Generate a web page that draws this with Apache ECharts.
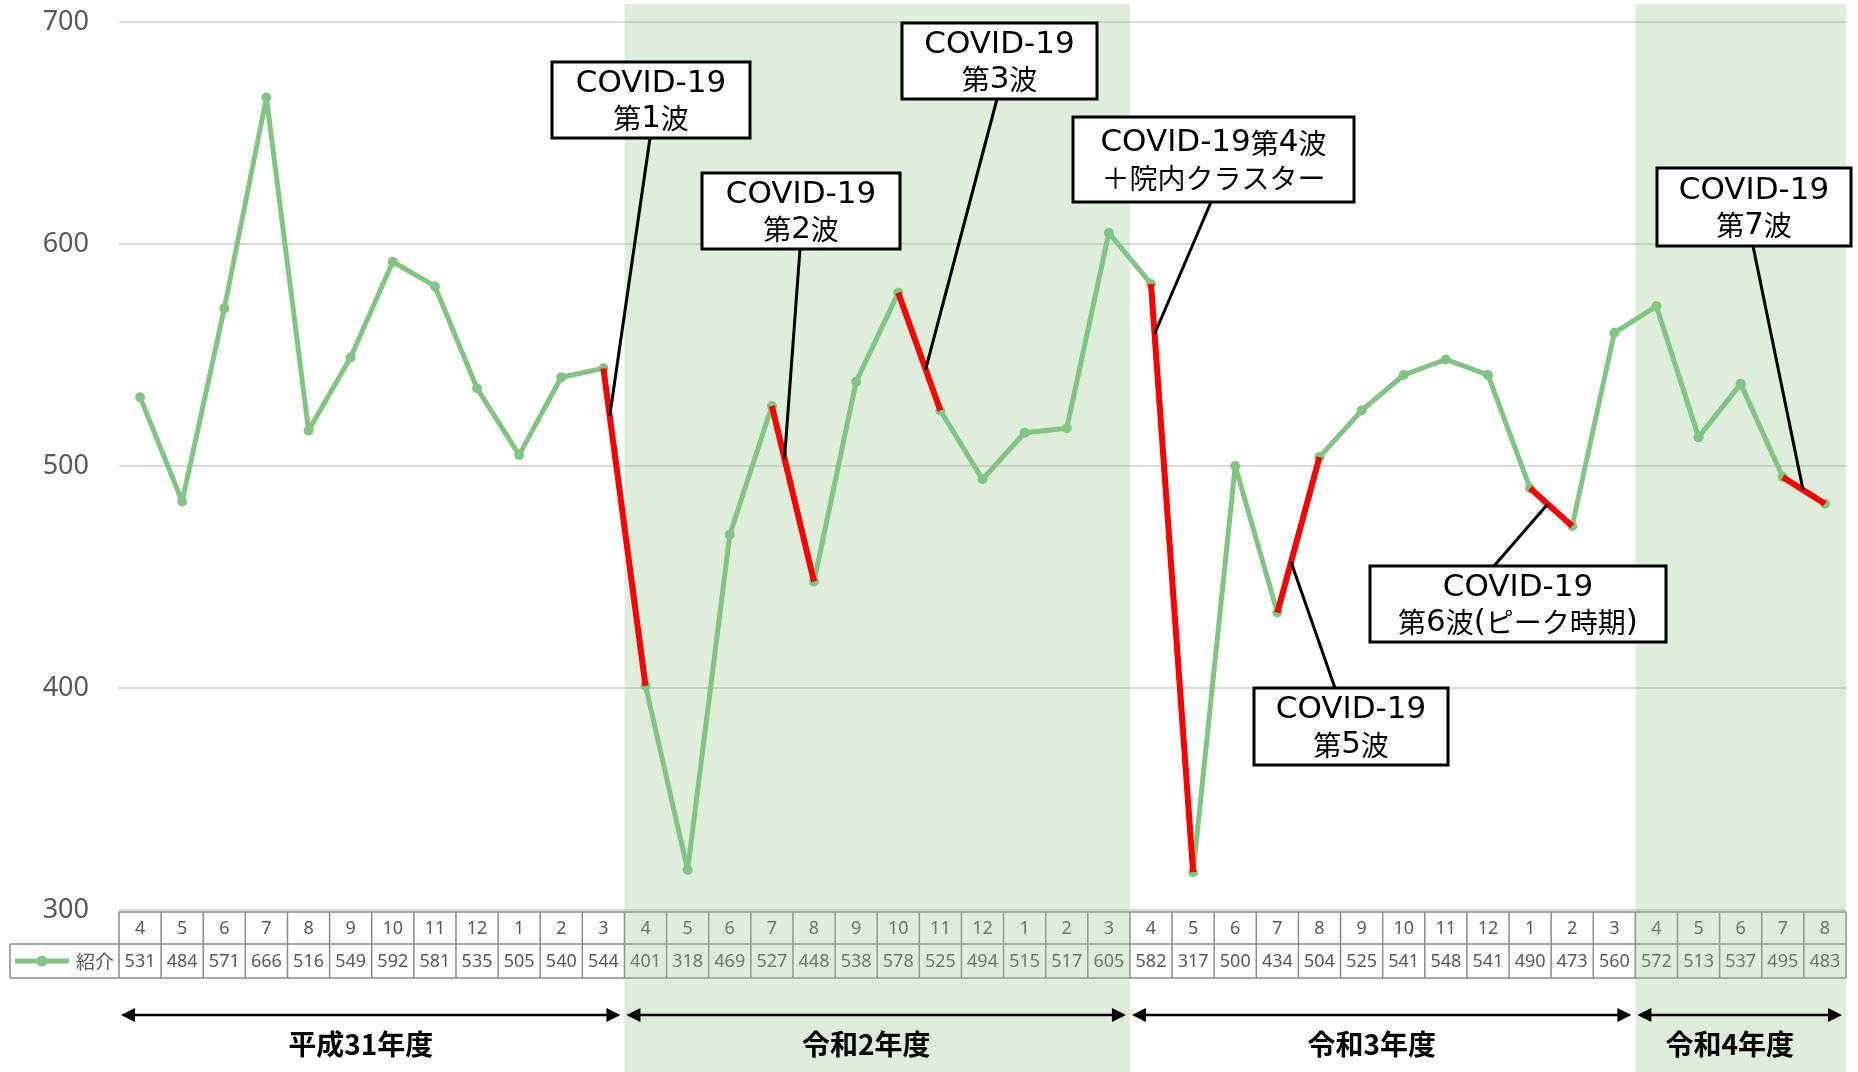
<!DOCTYPE html>
<html><head><meta charset="utf-8">
<script src="https://cdn.jsdelivr.net/npm/echarts@6/dist/echarts.min.js"></script>
<style>html,body{margin:0;padding:0;background:#fff}#main{width:1858px;height:1072px}</style>
</head><body><div id="main"></div>
<script>
// ---------- data ----------
const fiscalYears = ['平成31年度', '令和2年度', '令和3年度', '令和4年度'];
const monthsFY31 = ['4','5','6','7','8','9','10','11','12','1','2','3'];
const monthsR2   = ['4','5','6','7','8','9','10','11','12','1','2','3'];
const monthsR3   = ['4','5','6','7','8','9','10','11','12','1','2','3'];
const monthsR4   = ['4','5','6','7','8'];
const seriesName = '紹介';
const referralsFY31 = [531,484,571,666,516,549,592,581,535,505,540,544];
const referralsR2   = [401,318,469,527,448,538,578,525,494,515,517,605];
const referralsR3   = [582,317,500,434,504,525,541,548,541,490,473,560];
const referralsR4   = [572,513,537,495,483];
const yTicks = [300, 400, 500, 600, 700];
// COVID-19 wave segments (index of start month, index of end month)
const waveSegments = [[11,12],[15,16],[18,19],[24,25],[27,28],[33,34],[39,40]];
const waveTexts = [
  ['COVID-19', '第1波'],
  ['COVID-19', '第2波'],
  ['COVID-19', '第3波'],
  ['COVID-19第4波', '＋院内クラスター'],
  ['COVID-19', '第5波'],
  ['COVID-19', '第6波(ピーク時期)'],
  ['COVID-19', '第7波']
];
const shadedFiscalYears = [1, 3];

// ---------- derived ----------
const monthGroups = [monthsFY31, monthsR2, monthsR3, monthsR4];
const months = monthGroups.flat();
const referrals = [referralsFY31, referralsR2, referralsR3, referralsR4].flat();
const categories = [];
monthGroups.forEach((g, fi) => g.forEach(m => categories.push(fi + '-' + m)));
const waveData = referrals.map((v, i) => waveSegments.some(s => i === s[0] || i === s[1]) ? v : null);

// ---------- layout / style ----------
const GREEN = '#80c582';
const layout = {
  tableTop: 912, tableMid: 944, tableBottom: 978, tableLeft: 10,
  arrowY: 1015, yearLabelY: 1044, bandTop: 4, bandBottom: 1072,
  boxes: [
    {r:[552,62,750,138],   a:[650,138],  f:0.15},
    {r:[702,173,900,249],  a:[800,249],  f:0.30},
    {r:[902,23,1097,99],   a:[997,99],   f:0.65},
    {r:[1073,117,1354,202],a:[1211,202], f:0.085},
    {r:[1254,688,1448,765],a:[1335,688], f:0.325},
    {r:[1370,566,1666,642],a:[1494,566], f:0.42},
    {r:[1657,168,1851,246],a:[1753,246], f:0.48}
  ]
};

const chart = echarts.init(document.getElementById('main'));
chart.setOption({
  animation: false,
  grid: {left: 119, right: 12, top: 22, bottom: 162},
  xAxis: {
    type: 'category', data: categories, boundaryGap: true,
    axisLine: {show: false}, axisTick: {show: false}, axisLabel: {show: false}, splitLine: {show: false}
  },
  yAxis: {
    type: 'value', min: yTicks[0], max: yTicks[yTicks.length - 1], interval: 100,
    axisLine: {show: false}, axisTick: {show: false},
    axisLabel: {color: '#595959', fontSize: 27, fontFamily: 'Noto Sans', margin: 30, padding: [4, 0, 0, 0]},
    splitLine: {lineStyle: {color: '#d9d9d9', width: 2}}
  },
  series: [
    {name: seriesName, type: 'line', data: referrals, symbol: 'circle', symbolSize: 10,
     lineStyle: {color: GREEN, width: 5}, itemStyle: {color: GREEN}, z: 5},
    {name: 'wave', type: 'line', data: waveData, symbol: 'none', connectNulls: false,
     lineStyle: {color: '#ff0000', width: 6}, z: 6}
  ]
});

const pt = (i, v) => chart.convertToPixel({gridIndex: 0}, [i, v]);
const px = i => pt(i, yTicks[0])[0];
const bw = px(1) - px(0);
const edge = i => px(i) - bw / 2;
const N = months.length;

const els = [];
const starts = []; let acc = 0;
monthGroups.forEach(g => { starts.push(acc); acc += g.length; });

// shaded bands
shadedFiscalYears.forEach(fi => {
  const x0 = edge(starts[fi]), x1 = edge(starts[fi] + monthGroups[fi].length);
  els.push({type: 'rect', z: 2, silent: true,
    shape: {x: x0, y: layout.bandTop, width: x1 - x0, height: layout.bandBottom - layout.bandTop},
    style: {fill: 'rgba(145,198,132,0.30)'}});
});

// data table
const BORDER = '#8a8a8a';
const lineEl = (x1, y1, x2, y2, stroke, w, z) => ({type: 'line', z: z, silent: true,
  shape: {x1, y1, x2, y2}, style: {stroke, lineWidth: w}});
els.push(lineEl(edge(0), layout.tableTop, edge(N), layout.tableTop, BORDER, 1.5, 1));
els.push(lineEl(layout.tableLeft, layout.tableMid, edge(N), layout.tableMid, BORDER, 1.5, 1));
els.push(lineEl(layout.tableLeft, layout.tableBottom, edge(N), layout.tableBottom, BORDER, 1.5, 1));
els.push(lineEl(layout.tableLeft, layout.tableMid, layout.tableLeft, layout.tableBottom, BORDER, 1.5, 1));
for (let i = 0; i <= N; i++) {
  els.push(lineEl(edge(i), layout.tableTop, edge(i), layout.tableBottom, BORDER, 1.5, 1));
}
for (let i = 0; i < N; i++) {
  els.push({type: 'text', z: 1, silent: true,
    style: {text: months[i], x: px(i), y: (layout.tableTop + layout.tableMid) / 2 + 1,
      textAlign: 'center', textVerticalAlign: 'middle', fill: '#595959', font: '18px "Noto Sans"'}});
  els.push({type: 'text', z: 1, silent: true,
    style: {text: String(referrals[i]), x: px(i), y: (layout.tableMid + layout.tableBottom) / 2 + 1,
      textAlign: 'center', textVerticalAlign: 'middle', fill: '#595959', font: '18px "Noto Sans"'}});
}
// legend key in table
const ly = (layout.tableMid + layout.tableBottom) / 2;
els.push(lineEl(15, ly, 69, ly, GREEN, 5, 1));
els.push({type: 'circle', z: 1, silent: true, shape: {cx: 42, cy: ly, r: 5.5}, style: {fill: GREEN}});
els.push({type: 'text', z: 1, silent: true,
  style: {text: seriesName, x: 95, y: ly + 1, textAlign: 'center', textVerticalAlign: 'middle',
    fill: '#595959', font: '19px "Noto Sans CJK JP"'}});

// fiscal year arrows and labels
monthGroups.forEach((g, fi) => {
  const x0 = edge(starts[fi]) + 2, x1 = edge(starts[fi] + g.length) - 4, y = layout.arrowY;
  els.push(lineEl(x0 + 10, y, x1 - 10, y, '#000', 2.5, 8));
  els.push({type: 'polygon', z: 8, silent: true, shape: {points: [[x0, y], [x0 + 14, y - 7], [x0 + 14, y + 7]]}, style: {fill: '#000'}});
  els.push({type: 'polygon', z: 8, silent: true, shape: {points: [[x1, y], [x1 - 14, y - 7], [x1 - 14, y + 7]]}, style: {fill: '#000'}});
  els.push({type: 'text', z: 8, silent: true,
    style: {text: fiscalYears[fi], x: (x0 + x1) / 2 - 10, y: layout.yearLabelY, textAlign: 'center', textVerticalAlign: 'middle',
      fill: '#000', font: 'bold 28px "Noto Sans CJK JP"'}});
});

// rich text: Latin runs wider (DejaVu), CJK runs in Noto Sans CJK
function richRuns(t) {
  const runs = t.match(/[\x20-\x7e]+|[^\x20-\x7e]+/g) || [];
  return runs.map(r => /^[\x20-\x7e]+$/.test(r) ? '{a|' + r + '}' : '{b|' + r + '}').join('');
}
const richStyles = {
  a: {fontSize: 31, fontFamily: 'DejaVu Sans', fill: '#000', lineHeight: 35},
  b: {fontSize: 28, fontFamily: 'Noto Sans CJK JP', fill: '#000', lineHeight: 35}
};

// annotations
layout.boxes.forEach((b, k) => {
  const seg = waveSegments[k];
  const p0 = pt(seg[0], referrals[seg[0]]), p1 = pt(seg[1], referrals[seg[1]]);
  const tx = p0[0] + (p1[0] - p0[0]) * b.f, ty = p0[1] + (p1[1] - p0[1]) * b.f;
  els.push(lineEl(b.a[0], b.a[1], tx, ty, '#000', 3, 9));
  const [x0, y0, x1, y1] = b.r;
  els.push({type: 'rect', z: 10, silent: true, shape: {x: x0, y: y0, width: x1 - x0, height: y1 - y0},
    style: {fill: '#fff', stroke: '#000', lineWidth: 3}});
  const cy = (y0 + y1) / 2;
  waveTexts[k].forEach((t, j) => {
    els.push({type: 'text', z: 11, silent: true,
      style: {text: richRuns(t), rich: richStyles, x: (x0 + x1) / 2, y: cy + (j - 0.5) * 35 + 1,
        textAlign: 'center', textVerticalAlign: 'middle', fill: '#000'}});
  });
});

chart.setOption({graphic: {elements: els}});
</script></body></html>
